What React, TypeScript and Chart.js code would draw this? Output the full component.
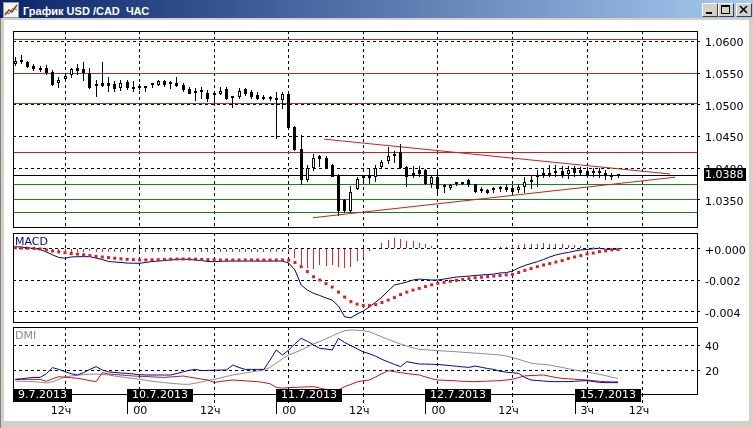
import React, { useEffect, useRef } from 'react';
import { Chart, registerables } from 'chart.js';

Chart.register(...registerables);

const FONT = "'DejaVu Sans', Verdana, sans-serif";

// ---------------- data (hourly bars USD/CAD) ----------------
const open = [
  1.0565, 1.0571, 1.0568, 1.0562, 1.0556, 1.0559, 1.0552, 1.0534, 1.0541, 1.0547,
  1.0558, 1.0556, 1.0551, 1.0531, 1.0534, 1.0535, 1.0533, 1.0527, 1.0536, 1.0529,
  1.0528, 1.0527, 1.0531, 1.0532, 1.0538, 1.0534, 1.0535, 1.0531, 1.0525, 1.0522,
  1.0521, 1.0519, 1.0516, 1.0518, 1.0525, 1.0512, 1.0512, 1.0525, 1.0521, 1.0516,
  1.0512, 1.0510, 1.0509, 1.0507, 1.0518, 1.0465, 1.0430, 1.0382, 1.0400, 1.0419,
  1.0417, 1.0405, 1.0390, 1.0350, 1.0332, 1.0367, 1.0385, 1.0384, 1.0387, 1.0402,
  1.0412, 1.0420, 1.0425, 1.0402, 1.0391, 1.0397, 1.0397, 1.0376, 1.0386, 1.0372,
  1.0369, 1.0376, 1.0377, 1.0382, 1.0375, 1.0365, 1.0365, 1.0365, 1.0368, 1.0371,
  1.0369, 1.0365, 1.0370, 1.0379, 1.0386, 1.0389, 1.0389, 1.0392, 1.0395, 1.0391,
  1.0400, 1.0397, 1.0395, 1.0393, 1.0393, 1.0393, 1.0388, 1.0388,
];
const high = [
  1.0575, 1.0579, 1.0570, 1.0564, 1.0561, 1.0563, 1.0555, 1.0544, 1.0550, 1.0559,
  1.0565, 1.0567, 1.0558, 1.0539, 1.0567, 1.0544, 1.0537, 1.0539, 1.0539, 1.0538,
  1.0533, 1.0530, 1.0534, 1.0539, 1.0540, 1.0537, 1.0544, 1.0535, 1.0529, 1.0526,
  1.0528, 1.0524, 1.0517, 1.0529, 1.0528, 1.0514, 1.0526, 1.0526, 1.0524, 1.0521,
  1.0516, 1.0514, 1.0521, 1.0521, 1.0519, 1.0466, 1.0453, 1.0405, 1.0423, 1.0421,
  1.0419, 1.0407, 1.0391, 1.0351, 1.0372, 1.0386, 1.0390, 1.0399, 1.0405, 1.0413,
  1.0433, 1.0428, 1.0438, 1.0404, 1.0404, 1.0404, 1.0399, 1.0388, 1.0397, 1.0375,
  1.0376, 1.0379, 1.0379, 1.0383, 1.0376, 1.0370, 1.0367, 1.0370, 1.0372, 1.0375,
  1.0374, 1.0376, 1.0387, 1.0390, 1.0397, 1.0399, 1.0405, 1.0405, 1.0403, 1.0404,
  1.0403, 1.0402, 1.0402, 1.0400, 1.0400, 1.0397, 1.0392, 1.0390,
];
const low = [
  1.0562, 1.0564, 1.0558, 1.0554, 1.0552, 1.0547, 1.0530, 1.0527, 1.0538, 1.0542,
  1.0547, 1.0537, 1.0525, 1.0513, 1.0529, 1.0521, 1.0521, 1.0522, 1.0524, 1.0520,
  1.0524, 1.0521, 1.0526, 1.0530, 1.0529, 1.0525, 1.0528, 1.0521, 1.0517, 1.0506,
  1.0510, 1.0505, 1.0503, 1.0516, 1.0508, 1.0495, 1.0509, 1.0514, 1.0509, 1.0507,
  1.0508, 1.0506, 1.0446, 1.0493, 1.0462, 1.0428, 1.0374, 1.0379, 1.0396, 1.0402,
  1.0399, 1.0386, 1.0325, 1.0330, 1.0330, 1.0365, 1.0375, 1.0375, 1.0379, 1.0399,
  1.0407, 1.0409, 1.0399, 1.0371, 1.0384, 1.0386, 1.0373, 1.0369, 1.0358, 1.0361,
  1.0366, 1.0372, 1.0374, 1.0371, 1.0361, 1.0361, 1.0359, 1.0361, 1.0363, 1.0362,
  1.0360, 1.0361, 1.0361, 1.0368, 1.0370, 1.0384, 1.0387, 1.0387, 1.0384, 1.0383,
  1.0387, 1.0389, 1.0386, 1.0387, 1.0384, 1.0382, 1.0382, 1.0384,
];
const close = [
  1.0570, 1.0567, 1.0560, 1.0557, 1.0555, 1.0551, 1.0531, 1.0539, 1.0546, 1.0556,
  1.0553, 1.0551, 1.0526, 1.0530, 1.0530, 1.0530, 1.0525, 1.0535, 1.0527, 1.0525,
  1.0527, 1.0528, 1.0532, 1.0537, 1.0531, 1.0533, 1.0530, 1.0524, 1.0518, 1.0519,
  1.0520, 1.0509, 1.0515, 1.0522, 1.0510, 1.0511, 1.0522, 1.0518, 1.0512, 1.0509,
  1.0510, 1.0509, 1.0508, 1.0518, 1.0463, 1.0429, 1.0382, 1.0400, 1.0417, 1.0414,
  1.0400, 1.0387, 1.0332, 1.0332, 1.0363, 1.0383, 1.0384, 1.0385, 1.0400, 1.0410,
  1.0419, 1.0421, 1.0400, 1.0387, 1.0390, 1.0391, 1.0375, 1.0386, 1.0367, 1.0371,
  1.0374, 1.0377, 1.0376, 1.0374, 1.0362, 1.0364, 1.0361, 1.0366, 1.0369, 1.0366,
  1.0362, 1.0370, 1.0379, 1.0380, 1.0387, 1.0390, 1.0390, 1.0392, 1.0389, 1.0398,
  1.0392, 1.0393, 1.0389, 1.0394, 1.0392, 1.0389, 1.0387, 1.0388,
];

const macdMain = [
  0.00015, 0.00012, 0.00008, 0.00003, -0.00003, -0.00019, -0.00038, -0.00054, -0.00059, -0.00051,
  -0.00049, -0.00049, -0.00049, -0.00058, -0.00067, -0.0008, -0.00083, -0.00086, -0.0009, -0.00091,
  -0.00091, -0.00086, -0.0008, -0.00077, -0.00074, -0.0007, -0.00067, -0.00064, -0.00067, -0.0007,
  -0.00074, -0.0008, -0.00081, -0.00079, -0.00077, -0.00077, -0.00077, -0.00077, -0.00077, -0.00077,
  -0.00077, -0.00077, -0.00077, -0.00077, -0.0009, -0.00134, -0.0023, -0.00262, -0.00283, -0.00297,
  -0.00313, -0.00326, -0.00364, -0.00433, -0.00439, -0.00415, -0.00396, -0.00369, -0.00339, -0.00307,
  -0.00268, -0.0023, -0.00221, -0.00211, -0.00198, -0.00192, -0.00195, -0.00198, -0.00198, -0.00192,
  -0.00185, -0.00179, -0.00176, -0.00173, -0.00169, -0.00166, -0.00163, -0.0016, -0.00153, -0.00151,
  -0.00141, -0.00121, -0.00105, -0.00093, -0.00081, -0.00067, -0.00051, -0.00038, -0.00029, -0.00022,
  -0.00013, -0.00006, -0.00003, 0.00001, 0.00005, -0.00002, -0.00002, -0.00002,
];
const macdSignal = [
  0.00008, 0.00006, 0.00005, 0.00003, 0.0, -0.00006, -0.00013, -0.00019, -0.00024, -0.00029,
  -0.00033, -0.00037, -0.00042, -0.00047, -0.00051, -0.00055, -0.00059, -0.00063, -0.00066, -0.00068,
  -0.0007, -0.0007, -0.00069, -0.00068, -0.00067, -0.00065, -0.00064, -0.00064, -0.00064, -0.00065,
  -0.00067, -0.00068, -0.00069, -0.0007, -0.0007, -0.0007, -0.0007, -0.0007, -0.0007, -0.0007,
  -0.0007, -0.0007, -0.0007, -0.0007, -0.00072, -0.00086, -0.00113, -0.00144, -0.00177, -0.00198,
  -0.00221, -0.00243, -0.00275, -0.00307, -0.00336, -0.00352, -0.00361, -0.00361, -0.00355, -0.00342,
  -0.00326, -0.0031, -0.00291, -0.00275, -0.00262, -0.00251, -0.0024, -0.00229, -0.00219, -0.00213,
  -0.00206, -0.002, -0.00194, -0.00189, -0.00184, -0.0018, -0.00176, -0.00173, -0.00169, -0.00165,
  -0.00162, -0.0015, -0.00137, -0.00125, -0.00113, -0.00102, -0.00093, -0.00083, -0.00074, -0.00061,
  -0.00051, -0.00042, -0.00032, -0.00026, -0.00017, -0.00012, -0.00006, -0.00003,
];
const macdHist = [
  0.00004, 0.00003, 0.00002, 0.0, -0.00005, -0.00012, -0.00018, -0.00022, -0.00022, -0.0002,
  -0.0002, -0.00018, -0.00016, -0.00018, -0.0002, -0.00022, -0.00022, -0.00022, -0.00022, -0.00022,
  -0.0002, -0.0002, -0.00018, -0.00018, -0.00018, -0.00016, -0.00016, -0.00016, -0.00018, -0.00018,
  -0.00018, -0.0002, -0.0002, -0.00018, -0.00018, -0.00018, -0.00018, -0.00018, -0.00018, -0.00018,
  -0.00018, -0.00018, -0.00018, -0.00018, -0.0002, -0.0006, -0.00102, -0.00124, -0.00128, -0.00102,
  -0.00107, -0.00102, -0.00113, -0.00124, -0.00113, -0.00077, -0.0006, -0.00015, 0.00005, 0.00036,
  0.00058, 0.00068, 0.00064, 0.00051, 0.00048, 0.00036, 0.0003, 0.00021, 0.00008, 0.00005,
  0.00004, 0.00005, 0.00004, 0.00005, 0.00006, 0.00005, 0.00006, 0.00008, 0.0001, 0.00015,
  0.0002, 0.00026, 0.0003, 0.00032, 0.00032, 0.00035, 0.00034, 0.00032, 0.0003, 0.00028,
  0.00026, 0.00022, 0.00018, 0.00012, 0.0001, 0.00004, 0.00002, 0.00001,
];

const dmiPlus = [
  12.5, 13, 13.6, 14.1, 14.1, 17, 21.9, 20.5, 18.7, 17,
  16, 18, 20.5, 22.7, 20, 18.5, 18, 17.6, 17.3, 16.8,
  16.3, 16, 16, 16, 16, 16, 17.2, 18.5, 19.8, 20.5,
  19.5, 19.7, 19.8, 20, 20, 24, 22, 20.5, 20.5, 20.5,
  20.5, 28, 36, 32, 36, 41, 45.3, 43, 40, 37.3,
  36.8, 36, 45.3, 42, 39.5, 37, 34.5, 33, 31, 28.5,
  26.5, 24.5, 22.7, 26.7, 25.7, 24.8, 24.7, 24.6, 24.4, 24,
  23.5, 23, 22.5, 22.1, 23.2, 22.2, 21.2, 20.5, 19, 18.3,
  17.8, 17.3, 14, 12, 11.6, 11.2, 10.8, 10.7, 10.7, 10.7,
  11, 11.3, 11.5, 10.8, 10.1, 9.9, 9.9, 9.9,
];
const dmiMinus = [
  12.5, 12.5, 12.5, 12.5, 12.5, 11, 13, 14.7, 14.2, 13.8,
  13.4, 12.5, 11.5, 10.7, 17.9, 16.8, 16.4, 16, 15.6, 15.2,
  15, 14.8, 14.5, 14.3, 14.1, 14.5, 14.8, 15.2, 14.3, 13.5,
  12.7, 12, 10, 10.8, 11.5, 12, 11.7, 11.3, 11, 10.7,
  10, 9, 6, 5.5, 5.9, 6.1, 6.3, 6.5, 6.7, 5.6,
  4.5, 4.3, 4, 6.7, 8.5, 10.5, 11.5, 12, 14.5, 17,
  19.5, 18.7, 17.9, 17.2, 16.6, 16, 14.5, 13, 12, 11.8,
  11.6, 11.3, 11, 10.8, 10.7, 10.9, 11.1, 11.3, 11.5, 12,
  12.5, 14, 15.3, 15.6, 15.8, 16, 15, 14, 13.3, 13,
  12.6, 12.3, 12, 11.5, 11, 10.7, 10.5, 10.5,
];
const adx = [
  11.2, 11, 10.9, 10.7, 10.2, 9.6, 10.5, 12.5, 14.5, 15.2,
  15.8, 16.3, 16.6, 16.8, 16.5, 16, 15.2, 14.5, 13.8, 13.3,
  12.5, 11.8, 11, 10.4, 9.9, 9.4, 9, 8.6, 8.6, 9.5,
  10.5, 11.7, 12.5, 13.7, 14.9, 16, 16.8, 17.6, 18.5, 19.3,
  20.2, 22, 25.5, 29, 32, 34, 36, 38.5, 41, 42.7,
  45, 47.3, 49.5, 51.5, 52, 51.8, 51.3, 50.7, 48.5, 46.5,
  44.5, 42.5, 40.8, 39.2, 37.8, 36.5, 36.2, 35.8, 35.5, 35.2,
  34.9, 34.6, 34.2, 33.9, 33.5, 33.2, 32.8, 32.4, 32, 31.2,
  30.1, 28.5, 27, 25.5, 24.8, 24.5, 24, 23, 22, 21,
  20, 19.2, 18.4, 17.5, 16.5, 15.5, 14.2, 13.3,
];

const priceTicks = [1.035, 1.04, 1.045, 1.05, 1.055, 1.06];
const macdTicks = [-0.004, -0.002, 0];
const dmiTicks = [20, 40];

const redLevels = [1.06025, 1.055, 1.05015, 1.0425];
const greenLevels = [1.0375, 1.035, 1.0331];
const blackLevels = [1.0388];
const trendUpper = [{ x: 49.7, y: 1.0446 }, { x: 105.4, y: 1.0391 }];
const trendLower = [{ x: 47.9, y: 1.0322 }, { x: 106.2, y: 1.0386 }];

const gridBars = [8, 20, 32, 44, 56, 68, 80, 92, 101];
const dayStartBars = [-1, 18, 42, 66, 90];
const dayLabels = ['9.7.2013', '10.7.2013', '11.7.2013', '12.7.2013', '15.7.2013'];
const hourTickBars = [8, 18, 32, 42, 56, 66, 80, 90, 101];
const hourTickLabels = ['12ч', '00', '12ч', '00', '12ч', '00', '12ч', '3ч', '12ч'];

// ---------------- scale ranges ----------------
const X_MIN = -0.37;
const X_MAX = 109.7;
const PRICE_MIN = 1.03074;
const PRICE_MAX = 1.06166;
const MACD_MIN = -0.00466;
const MACD_MAX = 0.00102;
const DMI_MIN = 0.8;
const DMI_MAX = 54.4;

const bars = close.map((_, i) => i);
const pts = (vals: number[]) => vals.map((y, i) => ({ x: bars[i], y }));

// ---------------- plugins ----------------
// snaps bar elements and horizontal level lines to whole device pixels for crisp 1px output
const snapPlugin = {
  id: 'snap',
  beforeDatasetsDraw(chart: any) {
    chart.getSortedVisibleDatasetMetas().forEach((meta: any) => {
      const ds = chart.data.datasets[meta.index];
      if (meta.type === 'bar') {
        meta.data.forEach((el: any) => {
          el.x = Math.floor(el.x) + 0.5;
          const y = Math.round(el.y);
          let base = Math.round(el.base);
          if (Math.abs(base - y) < 1 && ds.minBarLength) base = y + 1;
          el.y = y;
          el.base = base;
        });
      } else if (ds.snapY) {
        meta.data.forEach((el: any) => {
          el.y = Math.round(el.y - 0.5) + 0.5;
        });
      }
    });
  },
};

const framePlugin = {
  id: 'frame',
  afterDraw(chart: any) {
    const { ctx, chartArea: a } = chart;
    ctx.save();
    ctx.setLineDash([]);
    ctx.strokeStyle = '#000';
    ctx.lineWidth = 1;
    const l = Math.round(a.left) + 0.5;
    const t = Math.round(a.top) + 0.5;
    const r = Math.round(a.right) + 0.5;
    const b = Math.round(a.bottom) + 0.5;
    ctx.strokeRect(l, t, r - l, b - t);
    ctx.restore();
  },
};

const panelTitlePlugin = {
  id: 'panelTitle',
  afterDraw(chart: any, _args: any, opts: any) {
    if (!opts || !opts.text) return;
    const { ctx, chartArea: a } = chart;
    ctx.save();
    ctx.font = `11px ${FONT}`;
    ctx.fillStyle = opts.color;
    ctx.textAlign = 'left';
    ctx.textBaseline = 'alphabetic';
    ctx.fillText(opts.text, a.left + 2, a.top + 12);
    ctx.restore();
  },
};

const lastPrice = close[close.length - 1];
const priceBoxPlugin = {
  id: 'priceBox',
  afterDraw(chart: any) {
    const { ctx, chartArea: a } = chart;
    const y = Math.round(chart.scales.y.getPixelForValue(lastPrice));
    ctx.save();
    ctx.fillStyle = '#000';
    ctx.fillRect(Math.round(a.right) + 7, y - 8, 42, 13);
    ctx.fillStyle = '#fff';
    ctx.font = `11px ${FONT}`;
    ctx.textAlign = 'left';
    ctx.textBaseline = 'middle';
    ctx.fillText(lastPrice.toFixed(4), Math.round(a.right) + 8, y - 1);
    ctx.restore();
  },
};

const timeAxisPlugin = {
  id: 'timeAxis',
  afterDraw(chart: any) {
    const { ctx, chartArea: a } = chart;
    const xs = chart.scales.x;
    const b = Math.round(a.bottom);
    ctx.save();
    ctx.setLineDash([]);
    ctx.font = `11px ${FONT}`;
    ctx.strokeStyle = '#000';
    ctx.lineWidth = 1;
    dayStartBars.forEach((v) => {
      const px = Math.round(xs.getPixelForValue(v)) + 0.5;
      if (px < a.left) return;
      ctx.beginPath();
      ctx.moveTo(px, b);
      ctx.lineTo(px, b + 20);
      ctx.stroke();
    });
    ctx.fillStyle = '#000';
    ctx.textBaseline = 'alphabetic';
    hourTickBars.forEach((v, i) => {
      const px = xs.getPixelForValue(v);
      const isDay = dayStartBars.includes(v);
      ctx.textAlign = isDay ? 'left' : 'center';
      ctx.fillText(hourTickLabels[i], isDay ? px + 6 : px - 4, b + 20);
    });
    dayStartBars.forEach((v, i) => {
      const px = Math.max(Math.round(xs.getPixelForValue(v)), Math.round(a.left));
      const w = Math.round(ctx.measureText(dayLabels[i]).width + 10);
      ctx.fillStyle = '#000';
      ctx.fillRect(px, b - 5, w, 13);
      ctx.fillStyle = '#fff';
      ctx.textAlign = 'left';
      ctx.textBaseline = 'middle';
      ctx.fillText(dayLabels[i], px + 5, b + 1.5);
    });
    ctx.restore();
  },
};

// ---------------- axes ----------------
function xAxis(tickLength: number) {
  return {
    type: 'linear',
    min: X_MIN,
    max: X_MAX,
    offset: false,
    afterBuildTicks: (s: any) => {
      s.ticks = gridBars.map((value) => ({ value }));
    },
    afterFit: (s: any) => {
      s.height = 0;
      s.paddingLeft = 0;
      s.paddingRight = 0;
    },
    ticks: { display: false },
    grid: {
      color: '#000',
      lineWidth: 1,
      drawTicks: tickLength > 0,
      tickLength,
      offset: false,
      tickBorderDash: [3, 3],
    },
    border: { display: false, dash: [3, 3] },
  };
}

function yAxis(min: number, max: number, tickVals: number[], fmt: (v: number) => string) {
  return {
    type: 'linear',
    position: 'right',
    min,
    max,
    afterBuildTicks: (s: any) => {
      s.ticks = tickVals.map((value) => ({ value }));
    },
    afterFit: (s: any) => {
      s.width = 56;
      s.paddingTop = 0;
      s.paddingBottom = 0;
    },
    ticks: {
      callback: (v: any) => fmt(Number(v)),
      color: '#000',
      font: { family: FONT, size: 11 },
      padding: 2,
      labelOffset: 2,
      autoSkip: false,
    },
    grid: { color: '#000', lineWidth: 1, drawTicks: true, tickLength: 6, tickBorderDash: [3, 3] },
    border: { display: false, dash: [3, 3] },
  };
}

function makeChart(canvas: HTMLCanvasElement, datasets: any[], yCfg: any, padding: any, tickLen: number, plugins: any[], pluginOpts: any) {
  return new Chart(canvas, {
    type: 'line',
    data: { datasets },
    options: {
      responsive: false,
      maintainAspectRatio: false,
      animation: false,
      events: [],
      layout: { padding },
      plugins: { legend: { display: false }, tooltip: { enabled: false }, ...pluginOpts },
      scales: { x: xAxis(tickLen), y: yCfg },
    } as any,
    plugins,
  } as any);
}

const levelDs = (v: number, color: string, order: number) => ({
  type: 'line',
  data: [{ x: X_MIN, y: v }, { x: X_MAX, y: v }],
  borderColor: color,
  borderWidth: 1,
  pointRadius: 0,
  snapY: true,
  order,
});

const RED = '#cc1f1f';
const GREEN = '#128a12';

export default function App() {
  const mainRef = useRef<HTMLCanvasElement>(null);
  const macdRef = useRef<HTMLCanvasElement>(null);
  const dmiRef = useRef<HTMLCanvasElement>(null);

  useEffect(() => {
    Chart.defaults.font.family = FONT;
    Chart.defaults.font.size = 11;

    const mainDatasets = [
      ...redLevels.map((v) => levelDs(v, RED, 4)),
      ...greenLevels.map((v) => levelDs(v, GREEN, 4)),
      ...blackLevels.map((v) => levelDs(v, '#000', 4)),
      { type: 'line', data: trendUpper, borderColor: RED, borderWidth: 1, pointRadius: 0, order: 3 },
      { type: 'line', data: trendLower, borderColor: RED, borderWidth: 1, pointRadius: 0, order: 3 },
      {
        type: 'bar',
        data: bars.map((i) => ({ x: i, y: [low[i], high[i]] })),
        backgroundColor: '#000',
        borderWidth: 0,
        grouped: false,
        barPercentage: 1,
        maxBarThickness: 1,
        inflateAmount: 0,
        order: 1,
      },
      {
        type: 'bar',
        data: bars.map((i) => ({ x: i, y: [open[i], close[i]] })),
        backgroundColor: bars.map((i) => (close[i] > open[i] ? '#fff' : '#000')),
        borderColor: '#000',
        borderWidth: 1,
        borderSkipped: false,
        grouped: false,
        barPercentage: 1,
        maxBarThickness: 3,
        inflateAmount: 0,
        minBarLength: 2,
        order: 0,
      },
    ];
    const main = makeChart(
      mainRef.current!,
      mainDatasets,
      yAxis(PRICE_MIN, PRICE_MAX, priceTicks, (v) => v.toFixed(4)),
      { left: 13, right: 0, top: 9, bottom: 5 },
      0,
      [snapPlugin, framePlugin, priceBoxPlugin],
      {}
    );

    const macdDatasets = [
      {
        type: 'bar',
        data: pts(macdHist),
        backgroundColor: '#e02a2a',
        borderWidth: 0,
        grouped: false,
        barPercentage: 1,
        maxBarThickness: 1,
        inflateAmount: 0,
        order: 3,
      },
      { type: 'line', data: pts(macdMain), borderColor: '#000080', borderWidth: 1, pointRadius: 0, order: 2 },
      {
        type: 'line',
        data: pts(macdSignal),
        showLine: false,
        pointStyle: 'rect',
        pointRadius: 2.1,
        pointBorderWidth: 0,
        pointBackgroundColor: '#d81e1e',
        borderColor: '#d81e1e',
        order: 1,
      },
    ];
    const macd = makeChart(
      macdRef.current!,
      macdDatasets,
      yAxis(MACD_MIN, MACD_MAX, macdTicks, (v) => (Math.abs(v) < 1e-9 ? '+0.000' : v.toFixed(3))),
      { left: 13, right: 0, top: 4, bottom: 4 },
      0,
      [snapPlugin, framePlugin, panelTitlePlugin],
      { panelTitle: { text: 'MACD', color: '#000080' } }
    );

    const dmiDatasets = [
      { type: 'line', data: pts(adx), borderColor: '#8c8c8c', borderWidth: 1, pointRadius: 0, order: 3 },
      { type: 'line', data: pts(dmiMinus), borderColor: '#c81414', borderWidth: 1, pointRadius: 0, order: 2 },
      { type: 'line', data: pts(dmiPlus), borderColor: '#0000b4', borderWidth: 1, pointRadius: 0, order: 1 },
    ];
    const dmi = makeChart(
      dmiRef.current!,
      dmiDatasets,
      yAxis(DMI_MIN, DMI_MAX, dmiTicks, (v) => String(Math.round(v))),
      { left: 13, right: 0, top: 4, bottom: 26 },
      13,
      [framePlugin, panelTitlePlugin, timeAxisPlugin],
      { panelTitle: { text: 'DMI', color: '#8c8c8c' } }
    );

    return () => {
      main.destroy();
      macd.destroy();
      dmi.destroy();
    };
  }, []);

  const btn = (left: number, glyph: React.ReactNode) => (
    <div
      style={{
        position: 'absolute',
        left,
        top: 3,
        width: 16,
        height: 14,
        boxSizing: 'border-box',
        background: '#d4d0c8',
        borderTop: '1px solid #ffffff',
        borderLeft: '1px solid #ffffff',
        borderRight: '1px solid #404040',
        borderBottom: '1px solid #404040',
      }}
    >
      <svg width={14} height={12} style={{ position: 'absolute', left: 0, top: 0 }}>
        {glyph}
      </svg>
    </div>
  );

  return (
    <div
      style={{
        position: 'fixed',
        left: 0,
        top: 0,
        width: 753,
        height: 428,
        background: '#d4d0c8',
        overflow: 'hidden',
      }}
    >
      <div style={{ position: 'absolute', left: 0, top: 0, width: 1, height: 428, background: '#808080' }} />
      <div
        style={{
          position: 'absolute',
          left: 0,
          top: 0,
          width: 753,
          height: 18,
          background: 'linear-gradient(to right, #0a246a, #a6caf0)',
        }}
      />
      <svg width={16} height={16} style={{ position: 'absolute', left: 3, top: 2 }}>
        <rect x={0.5} y={0.5} width={15} height={15} fill="#f4f4f4" stroke="#9a9a9a" />
        <polyline points="2,13 6,8 9,10 14,3" fill="none" stroke="#d02020" strokeWidth={1.4} />
        <polyline points="2,10 6,12 10,6 14,8" fill="none" stroke="#2a9a2a" strokeWidth={1} />
      </svg>
      <div
        style={{
          position: 'absolute',
          left: 23,
          top: 4,
          height: 14,
          lineHeight: '14px',
          color: '#ffffff',
          fontWeight: 'bold',
          fontSize: 11,
          fontFamily: "'Liberation Sans', Arial, sans-serif",
          whiteSpace: 'pre',
        }}
      >
        График USD /CAD  ЧАС
      </div>
      {btn(702, <rect x={3} y={8} width={6} height={2} fill="#000" />)}
      {btn(718, (
        <g>
          <rect x={2.5} y={1.5} width={8} height={8} fill="none" stroke="#000" />
          <rect x={2} y={1} width={9} height={2} fill="#000" />
        </g>
      ))}
      {btn(736, (
        <g stroke="#000" strokeWidth={1.6}>
          <line x1={3} y1={2} x2={10} y2={9} />
          <line x1={10} y1={2} x2={3} y2={9} />
        </g>
      ))}
      <div style={{ position: 'absolute', left: 4, top: 20, width: 745, height: 401, background: '#ffffff' }} />
      <canvas ref={mainRef} width={753} height={210} style={{ position: 'absolute', left: 0, top: 22 }} />
      <canvas ref={macdRef} width={753} height={97} style={{ position: 'absolute', left: 0, top: 229 }} />
      <canvas ref={dmiRef} width={753} height={97} style={{ position: 'absolute', left: 0, top: 323 }} />
    </div>
  );
}
